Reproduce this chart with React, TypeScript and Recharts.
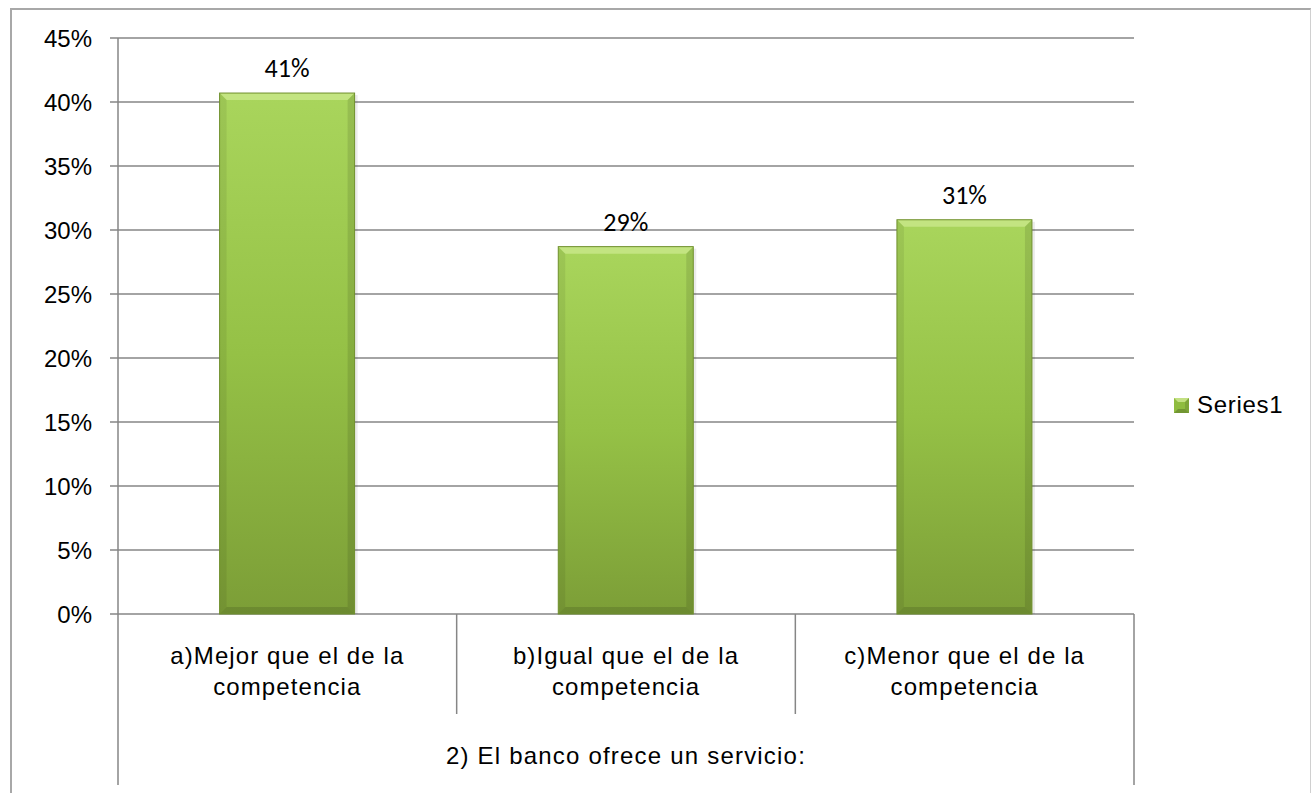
import { BarChart, Bar, XAxis, YAxis, CartesianGrid, LabelList } from 'recharts'

const categories = ['a)Mejor que el de la\ncompetencia', 'b)Igual que el de la\ncompetencia', 'c)Menor que el de la\ncompetencia']
const series1 = [0.407, 0.287, 0.308]
const yTicks = [0, 0.05, 0.1, 0.15, 0.2, 0.25, 0.3, 0.35, 0.4, 0.45]
const groupLabel = '2) El banco ofrece un servicio:'
const seriesName = 'Series1'

const data = categories.map((name, i) => ({ name, value: series1[i] }))

const FONT = '"Liberation Sans", Arial, sans-serif'
const GRID = '#868686'
const PLOT_BOTTOM = 614

const pct = (v: number) => `${Math.round(v * 100)}%`

const BevelBar = (props: any) => {
  const { x, y, width: w, height: h, index } = props
  const b = 7
  const id = `barGrad${index}`
  return (
    <g>
      <defs>
        <linearGradient id={id} x1="0" y1="0" x2="0" y2="1">
          <stop offset="0%" stopColor="#a9d55c" />
          <stop offset="50%" stopColor="#95c146" />
          <stop offset="100%" stopColor="#7c9e37" />
        </linearGradient>
      </defs>
      <rect x={x + w} y={y + 2} width={3} height={h - 2} fill="#000" fillOpacity={0.08} />
      <rect x={x} y={y} width={w} height={h} fill={`url(#${id})`} />
      <polygon points={`${x},${y} ${x + w},${y} ${x + w - b},${y + b} ${x + b},${y + b}`} fill="#d8f0a0" fillOpacity={0.55} />
      <polygon points={`${x},${y} ${x + b},${y + b} ${x + b},${y + h - b} ${x},${y + h}`} fill="#000" fillOpacity={0.07} />
      <polygon points={`${x + w},${y} ${x + w - b},${y + b} ${x + w - b},${y + h - b} ${x + w},${y + h}`} fill="#000" fillOpacity={0.1} />
      <polygon points={`${x},${y + h} ${x + b},${y + h - b} ${x + w - b},${y + h - b} ${x + w},${y + h}`} fill="#000" fillOpacity={0.12} />
      <rect x={x} y={y} width={w} height={h} fill="none" stroke="#6f8f2c" strokeWidth={1} />
    </g>
  )
}

const CategoryTick = (props: any) => {
  const { x, payload, index } = props
  const half = payload.offset ?? 169.33
  const lines = String(payload.value).split('\n')
  const top = PLOT_BOTTOM
  return (
    <g>
      <line x1={x - half} y1={top} x2={x - half} y2={index === 0 ? 785 : 714} stroke={GRID} strokeWidth={1.5} />
      {index === categories.length - 1 && (
        <line x1={x + half} y1={top} x2={x + half} y2={785} stroke={GRID} strokeWidth={1.5} />
      )}
      {lines.map((ln, i) => (
        <text key={i} x={x} y={664 + i * 31} textAnchor="middle" fontFamily={FONT} fontSize={24} letterSpacing={1.1} fill="#000">
          {ln}
        </text>
      ))}
      {index === 1 && (
        <text x={x} y={764} textAnchor="middle" fontFamily={FONT} fontSize={24} letterSpacing={1.2} fill="#000">
          {groupLabel}
        </text>
      )}
    </g>
  )
}

const LegendBox = () => (
  <div
    style={{
      position: 'absolute',
      left: 1174,
      top: 391,
      display: 'flex',
      alignItems: 'center',
      fontFamily: FONT,
      fontSize: 24,
      letterSpacing: 0.7,
      color: '#000',
    }}
  >
    <svg width={15} height={15} style={{ marginRight: 8 }}>
      <rect x={0} y={0} width={15} height={15} fill="#8fbc3f" />
      <polygon points="0,0 15,0 11,4 4,4" fill="#d8f0a0" fillOpacity={0.7} />
      <polygon points="0,15 4,11 11,11 15,15" fill="#000" fillOpacity={0.2} />
      <polygon points="15,0 11,4 11,11 15,15" fill="#000" fillOpacity={0.12} />
    </svg>
    <span>{seriesName}</span>
  </div>
)

export default function App() {
  return (
    <div style={{ position: 'absolute', left: 0, top: 0, width: 1311, height: 793, background: '#fff', overflow: 'hidden' }}>
      <div
        style={{
          position: 'absolute',
          left: 10,
          top: 8,
          width: 1298,
          height: 820,
          borderLeft: '2px solid #a8a8a8',
          borderTop: '2px solid #a8a8a8',
          borderRight: '1px solid #d0d0d0',
        }}
      />
      <div style={{ position: 'absolute', left: 0, top: 0 }}>
        <BarChart width={1311} height={793} data={data} margin={{ top: 38, right: 177, bottom: 0, left: 0 }} barCategoryGap="30%">
          <CartesianGrid horizontal vertical={false} stroke={GRID} strokeWidth={1.5} />
          <YAxis
            domain={[0, 0.45]}
            ticks={yTicks}
            tickFormatter={pct}
            width={118}
            tickSize={8}
            tickMargin={18}
            axisLine={{ stroke: GRID, strokeWidth: 1.5 }}
            tickLine={{ stroke: GRID, strokeWidth: 1.5 }}
            tick={{ fill: '#000', fontSize: 24, fontFamily: FONT }}
            interval={0}
          />
          <XAxis
            dataKey="name"
            height={179}
            axisLine={false}
            tickLine={false}
            tickSize={0}
            tickMargin={0}
            interval={0}
            tick={<CategoryTick />}
          />
          <Bar dataKey="value" name={seriesName} shape={<BevelBar />} isAnimationActive={false}>
            <LabelList
              dataKey="value"
              position="top"
              offset={16}
              formatter={(v: any) => pct(Number(v))}
              fill="#000"
              fontSize={26}
              fontFamily="Carlito, Calibri, Lato, sans-serif"
            />
          </Bar>
        </BarChart>
      </div>
      <LegendBox />
    </div>
  )
}
